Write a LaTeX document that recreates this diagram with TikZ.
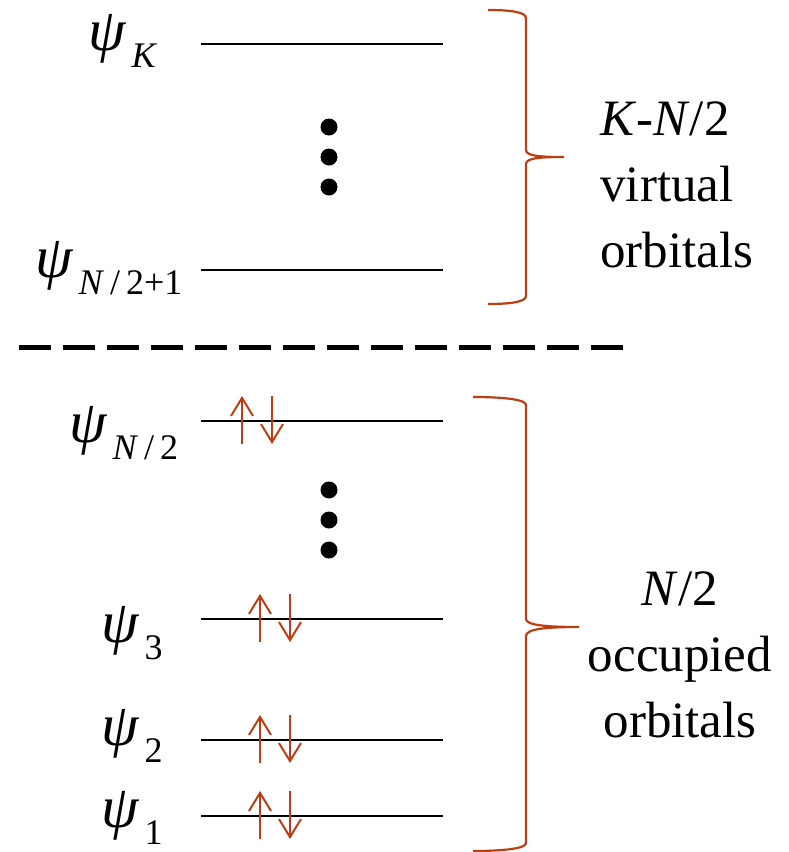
\documentclass[tikz,border=0pt]{standalone}
\usepackage{fontspec}
\setmainfont{Liberation Serif}
\usetikzlibrary{arrows.meta, positioning}
\definecolor{spinred}{RGB}{188,62,18}

\newcommand{\orbsub}[1]{\hspace{2.5pt}\raisebox{-8.5pt}{\fontsize{18}{18}\selectfont #1}}
\newcommand{\spinpair}[2]{%
  \draw[spin] (#1,#2+23) -- (#1,#2-25);
  \draw[spin] (#1+30,#2-25) -- (#1+30,#2+23);}

\begin{document}
\begin{tikzpicture}[
        x=0.5pt, y=-0.5pt,
        level/.style={line width=1pt},
        spin/.style={line width=1pt, spinred, -{Straight Barb[length=9pt, width=11pt]}},
        brace/.style={line width=1.1pt, spinred},
        psilabel/.style={anchor=base west, inner sep=0pt, font=\fontsize{30}{30}\selectfont},
        group/.style={inner sep=0pt, font=\fontsize{25.5}{33}\selectfont},
        vdot/.style={circle, fill, inner sep=0pt, minimum size=8.5pt}
        ]
        \useasboundingbox (0,0) rectangle (788,852);

        % Levels
        \coordinate (lK) at (201,44);  \coordinate (rK) at (443,44);
        \coordinate (lV) at (201,270); \coordinate (rV) at (443,270);
        \coordinate (lH) at (201,421); \coordinate (rH) at (443,421);
        \coordinate (l3) at (201,619); \coordinate (r3) at (443,619);
        \coordinate (l2) at (201,740); \coordinate (r2) at (443,740);
        \coordinate (l1) at (201,816); \coordinate (r1) at (443,816);
        \draw[level] (lK) -- (rK);
        \draw[level] (lV) -- (rV);
        \draw[level] (lH) -- (rH);
        \draw[level] (l3) -- (r3);
        \draw[level] (l2) -- (r2);
        \draw[level] (l1) -- (r1);

        % Labels
        \node (psiK) [psilabel] at (88,50) {\textit{ψ}\orbsub{\textit{K}}};
        \node (psiV) [psilabel] at (35,277) {\textit{ψ}\orbsub{\textit{N}\,/\,2+1}};
        \node (psiH) [psilabel] at (69,442) {\textit{ψ}\orbsub{\textit{N}\,/\,2}};
        \node (psi3) [psilabel] at (101,642) {\textit{ψ}\orbsub{3}};
        \node (psi2) [psilabel] at (101,745) {\textit{ψ}\orbsub{2}};
        \node (psi1) [psilabel] at (101,827) {\textit{ψ}\orbsub{1}};

        % Dots
        \node (d1) [vdot] at (329,127) {};
        \node (d2) [vdot] at (329,157) {};
        \node (d3) [vdot] at (329,187) {};
        \node (d4) [vdot] at (329,490) {};
        \node (d5) [vdot] at (329,520) {};
        \node (d6) [vdot] at (329,550) {};

        % Spins
        \spinpair{242}{421}
        \spinpair{260}{619}
        \spinpair{260}{740}
        \spinpair{260}{816}

        % Separator
        \coordinate (sepL) at (19,347);
        \coordinate (sepR) at (623,347);
        \draw[line width=2.5pt, dash pattern=on 16pt off 6pt] (sepL) -- (sepR);

        % Braces
        \draw[brace] (488,10) .. controls (510,10) and (526,12) .. (526,18) -- (526,150)
            .. controls (526,156) and (540,157) .. (564,157)
            .. controls (540,157) and (526,158) .. (526,164) -- (526,296)
            .. controls (526,302) and (510,304) .. (488,304);
        \draw[brace] (473,397) .. controls (500,397) and (526,399) .. (526,405) -- (526,619)
            .. controls (526,625) and (545,627) .. (579,627)
            .. controls (545,627) and (526,629) .. (526,636) -- (526,843)
            .. controls (526,849) and (500,851) .. (473,851);

        \node (virt) [group, align=left, anchor=north west] at (600,101) {\textit{K}-\textit{N}/2\\virtual\\orbitals};
        \node (occ) [group, align=center, anchor=north] at (680,571) {\textit{N}/2\\occupied\\orbitals};

    \end{tikzpicture}
\end{document}
